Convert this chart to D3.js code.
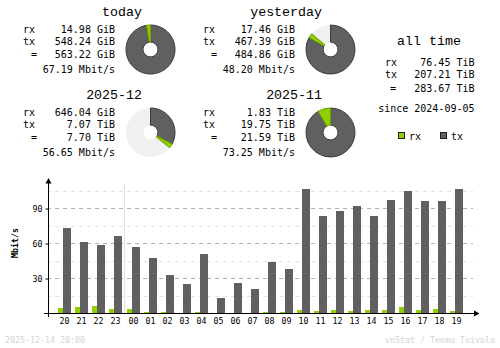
<!DOCTYPE html>
<html><head><meta charset="utf-8">
<script src="https://cdn.jsdelivr.net/npm/d3@7"></script>
<style>
html,body{margin:0;padding:0;background:#fff;}
svg{display:block;}
text{font-family:"DejaVu Sans Mono",monospace;}
.title{font-family:"Liberation Mono","DejaVu Sans Mono",monospace;}
</style></head>
<body>
<script>
// ---- data ----
const hours = ["20","21","22","23","00","01","02","03","04","05","06","07","08","09","10","11","12","13","14","15","16","17","18","19"];
const txRate = [73.1,61.1,58.6,66.3,56.8,47.4,32.8,25.1,50.8,13.1,26.0,20.8,44.0,38.0,106.6,83.4,87.7,92.0,83.4,97.1,104.9,96.3,96.3,106.6];
const rxRate = [4.5,5.4,6.3,3.7,3.7,1.1,1.1,0.3,1.1,0.3,0.3,0.3,1.1,1.1,2.8,2.0,2.8,2.0,2.8,2.8,5.4,2.8,3.7,2.0];
const yTicks = [30,60,90];
const yMinor = [15,45,75,105];

const periodTitles = ["today","yesterday","2025-12","2025-11"];
const periodRx = [14.98, 17.46, 646.04, 1.83];
const periodRxUnit = ["GiB","GiB","GiB","TiB"];
const periodTx = [548.24, 467.39, 7.07, 19.75];
const periodTxUnit = ["GiB","GiB","TiB","TiB"];
const periodTotal = [563.22, 484.86, 7.70, 21.59];
const periodTotalUnit = ["GiB","GiB","TiB","TiB"];
const periodRate = ["67.19 Mbit/s","48.20 Mbit/s","56.65 Mbit/s","73.25 Mbit/s"];

const allTimeLabels = ["rx","tx","="];
const allTimeValues = ["76.45 TiB","207.21 TiB","283.67 TiB"];
const sinceText = "since 2024-09-05";
const legendLabels = ["rx","tx"];
const footerLeft = "2025-12-14 20:00";
const footerRight = "vnStat / Teemu Toivola";
const yLabel = "Mbit/s";

// ---- styles ----
const C_RX = "#92cf00", C_TX = "#606060", C_RXD = "#6e9c00", C_TXD = "#3a3a3a";
const C_BGOFF = "#f0f0f0";

const svg = d3.select("body").append("svg").attr("width",500).attr("height",348);

const fmt = (v,u) => v.toFixed(2) + " " + u;
const toGiB = (v,u) => u === "TiB" ? v*1024 : v;

// ---- period blocks ----
const blockPos = [ {x:0,y:0}, {x:180,y:0}, {x:0,y:83}, {x:180,y:83} ];
const arc = d3.arc();
periodTitles.forEach((t,i) => {
  const p = blockPos[i];
  const g = svg.append("g").attr("transform",`translate(${p.x},${p.y})`);
  g.append("text").attr("class","title").attr("x",142).attr("y",16).attr("text-anchor","end")
    .attr("font-size","13.3px").text(t);
  const rows = [
    ["rx", fmt(periodRx[i],periodRxUnit[i]), 32.5],
    ["tx", fmt(periodTx[i],periodTxUnit[i]), 44.5],
    ["=", fmt(periodTotal[i],periodTotalUnit[i]), 58]
  ];
  rows.forEach(r => {
    g.append("text").attr("x", r[0]==="=" ? 31 : 23).attr("y",r[2]).attr("font-size","10px").text(r[0]);
    g.append("text").attr("x",115).attr("y",r[2]).attr("text-anchor","end").attr("font-size","10px").text(r[1]);
  });
  g.append("text").attr("x",115).attr("y",72.5).attr("text-anchor","end").attr("font-size","10px").text(periodRate[i]);

  // donut
  const pair = i < 2 ? [0,1] : [2,3];
  const maxTot = d3.max(pair, k => toGiB(periodRx[k],periodRxUnit[k]) + toGiB(periodTx[k],periodTxUnit[k]));
  const rxG = toGiB(periodRx[i],periodRxUnit[i]), txG = toGiB(periodTx[i],periodTxUnit[i]);
  const a = d3.scaleLinear().domain([0,maxTot]).range([0,2*Math.PI]);
  const pg = g.append("g").attr("transform","translate(150.5,49.5)");
  const R = 24.5, r0 = 7.3;
  if (rxG + txG < maxTot*0.999) {
    pg.append("circle").attr("r",R).attr("fill",C_BGOFF);
  }
  pg.append("path").attr("d", arc({innerRadius:r0,outerRadius:R,startAngle:0,endAngle:a(txG)}))
    .attr("fill",C_TX).attr("stroke",C_TXD).attr("stroke-width",1);
  pg.append("path").attr("d", arc({innerRadius:r0,outerRadius:R,startAngle:a(txG),endAngle:a(txG+rxG)}))
    .attr("fill",C_RX).attr("stroke",C_RXD).attr("stroke-width",1);
  pg.append("circle").attr("r",r0-0.5).attr("fill","#fff");
});

// ---- all time ----
svg.append("text").attr("class","title").attr("x",429).attr("y",45).attr("text-anchor","middle").attr("font-size","13.3px").text("all time");
const atY = [65.5,77.5,91.5];
allTimeLabels.forEach((l,i) => {
  svg.append("text").attr("x", l==="=" ? 390 : 385).attr("y",atY[i]).attr("font-size","10px").text(l);
  svg.append("text").attr("x",474.5).attr("y",atY[i]).attr("text-anchor","end").attr("font-size","10px").text(allTimeValues[i]);
});
svg.append("text").attr("x",474.5).attr("y",111.5).attr("text-anchor","end").attr("font-size","10px").text(sinceText);

// legend
const legX = [398,440];
legendLabels.forEach((l,i) => {
  svg.append("rect").attr("x",legX[i]+0.5).attr("y",132.5).attr("width",6).attr("height",6)
    .attr("fill", i===0?C_RX:C_TX).attr("stroke","#202020").attr("stroke-width",1);
  svg.append("text").attr("x",legX[i]+11).attr("y",139.5).attr("font-size","10px").text(l);
});

// ---- bar chart ----
const y = d3.scaleLinear().domain([0,105]).range([313,190.5]);
const band = d3.scaleBand().domain(hours).range([56,56+17*hours.length]).paddingInner(0).paddingOuter(0);
const dayIdx = hours.indexOf("00");
const slotX = (h,i) => band(h) + (i >= dayIdx ? 1 : 0);

const chart = svg.append("g");
// minor gridlines
yMinor.forEach(v => {
  chart.append("line").attr("x1",49).attr("x2",473).attr("y1",Math.round(y(v))+0.5).attr("y2",Math.round(y(v))+0.5)
    .attr("stroke","#e2e2e2").attr("stroke-dasharray","4,4").attr("stroke-dashoffset",2);
});
yTicks.forEach(v => {
  chart.append("line").attr("x1",49).attr("x2",473).attr("y1",Math.round(y(v))+0.5).attr("y2",Math.round(y(v))+0.5)
    .attr("stroke","#b0b0b0").attr("stroke-dasharray","4,4").attr("stroke-dashoffset",2);
});
// day divider
chart.append("line").attr("x1",band("00")+0.5).attr("x2",band("00")+0.5).attr("y1",184).attr("y2",313)
  .attr("stroke","#e0e0e0");

// bars
hours.forEach((h,i) => {
  const gx = slotX(h,i) + 2;
  const tTop = Math.round(y(txRate[i]));
  chart.append("rect").attr("x",gx+5).attr("y",tTop).attr("width",8).attr("height",313-tTop).attr("fill",C_TX);
  const rTop = Math.round(y(rxRate[i]));
  if (313 - rTop > 0)
    chart.append("rect").attr("x",gx).attr("y",rTop).attr("width",5).attr("height",313-rTop).attr("fill",C_RX);
  chart.append("text").attr("x",gx+6.5).attr("y",324).attr("text-anchor","middle")
    .attr("font-size","8.3px").text(h);
});

// y axis ticks and labels
const yAxis = d3.axisLeft(y).tickValues(yTicks).tickSize(3).tickPadding(3);
const ya = chart.append("g").attr("transform","translate(48.5,0.5)").call(yAxis);
ya.select(".domain").remove();
ya.selectAll(".tick line").attr("stroke","#000");
ya.selectAll(".tick text").attr("font-family","DejaVu Sans Mono").attr("font-size","8.3px").attr("fill","#000")
  .attr("dy","0.35em");

// axes lines
chart.append("line").attr("x1",48.5).attr("x2",48.5).attr("y1",181).attr("y2",317).attr("stroke","#000");
chart.append("path").attr("d","M48.5,178 L45.5,183.5 L51.5,183.5 Z").attr("fill","#000");
chart.append("line").attr("x1",44).attr("x2",476).attr("y1",313.5).attr("y2",313.5).attr("stroke","#000");
chart.append("path").attr("d","M479.5,313.5 L474,310.5 L474,316.5 Z").attr("fill","#000");

// y label
svg.append("text").attr("transform","translate(17.5,243) rotate(-90)").attr("text-anchor","middle")
  .attr("font-size","8.3px").attr("font-weight","bold").text(yLabel);

// footer
svg.append("text").attr("x",5).attr("y",342.5).attr("font-size","8.3px").attr("fill","#d4d4d4").text(footerLeft);
svg.append("text").attr("x",495).attr("y",342.5).attr("text-anchor","end").attr("font-size","8.3px").attr("fill","#d4d4d4").text(footerRight);
</script>
</body></html>
